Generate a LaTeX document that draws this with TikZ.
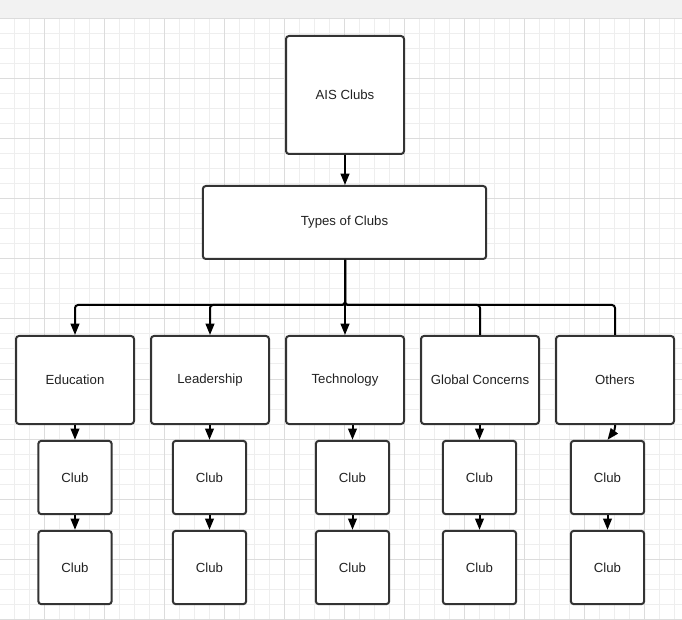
\documentclass[tikz,border=0pt]{standalone}
\usepackage{fontspec}
\setmainfont{Liberation Sans}
\usetikzlibrary{arrows.meta, positioning}
\definecolor{BarGray}{HTML}{F2F2F2}
\definecolor{GridMinor}{HTML}{EEEEEE}
\definecolor{GridMajor}{HTML}{DCDCDC}
\definecolor{EdgeGray}{HTML}{333333}
\definecolor{TextGray}{HTML}{222222}

\begin{document}
\begin{tikzpicture}[
		x=0.75pt, y=-0.75pt,
		BoxCfg/.style={
			draw=EdgeGray, line width=1.5pt, fill=white,
			rounded corners=2.25pt, inner sep=0pt,
			text=TextGray, font=\fontsize{9.9}{12}\selectfont
		},
		CatCfg/.style={BoxCfg, minimum width=88.5pt, minimum height=66pt},
		ClubCfg/.style={BoxCfg, minimum width=55pt, minimum height=55pt},
		LinkCfg/.style={line width=1.5pt, rounded corners=2.25pt},
		ArrowCfg/.style={LinkCfg, -{Triangle[length=8.5pt, width=6.5pt]}}
		]
		
		\useasboundingbox (0,0) rectangle (682,620);
		\fill[white] (0,19) rectangle (682,620);
		\fill[BarGray] (0,0) rectangle (682,19);
		\foreach \gx in {14,29,...,674} \draw[GridMinor, line width=0.75pt] (\gx,19) -- (\gx,620);
		\foreach \gy in {34,49,...,619} \draw[GridMinor, line width=0.75pt] (0,\gy) -- (682,\gy);
		\foreach \gx in {44,104,...,644} \draw[GridMajor, line width=0.75pt] (\gx,19) -- (\gx,620);
		\foreach \gy in {19,79,...,619} \draw[GridMajor, line width=0.75pt] (0,\gy) -- (682,\gy);
		
		\path
		(345,95) node [BoxCfg, minimum width=88.5pt, minimum height=88.5pt] (AIS) {AIS Clubs}
		++ (-0.5,127.5) node [BoxCfg, minimum width=212.5pt, minimum height=54.75pt] (TYPES) {Types of Clubs};
		
		\path
		(75,380) node [CatCfg] (EDU) {Education}
		++ (135,0) node [CatCfg] (LEAD) {Leadership}
		++ (135,0) node [CatCfg] (TECH) {Technology}
		++ (135,0) node [CatCfg] (GLOB) {Global Concerns}
		++ (135,0) node [CatCfg] (OTH) {Others};
		
		\path
		(75,477.5) node [ClubCfg] (EDUC1) {Club} ++ (0,90) node [ClubCfg] (EDUC2) {Club}
		(209.5,477.5) node [ClubCfg] (LEADC1) {Club} ++ (0,90) node [ClubCfg] (LEADC2) {Club}
		(352.5,477.5) node [ClubCfg] (TECHC1) {Club} ++ (0,90) node [ClubCfg] (TECHC2) {Club}
		(479.5,477.5) node [ClubCfg] (GLOBC1) {Club} ++ (0,90) node [ClubCfg] (GLOBC2) {Club}
		(607.5,477.5) node [ClubCfg] (OTHC1) {Club} ++ (0,90) node [ClubCfg] (OTHC2) {Club};
		
		\draw [ArrowCfg] (AIS.south) -- (AIS.south |- TYPES.north);
		\draw [ArrowCfg] (TYPES.south -| AIS.south) --++ (0,45) -| (EDU.north);
		\draw [ArrowCfg] (TYPES.south -| AIS.south) --++ (0,45) -| (LEAD.north);
		\draw [ArrowCfg] (TYPES.south -| AIS.south) -- (TECH.north);
		\draw [LinkCfg] (TYPES.south -| AIS.south) --++ (0,45) -| (GLOB.north);
		\draw [LinkCfg] (TYPES.south -| AIS.south) --++ (0,45) -| (OTH.north);
		
		\draw [ArrowCfg] (EDUC1.north |- EDU.south) -- (EDUC1.north);
		\draw [ArrowCfg] (LEADC1.north |- LEAD.south) -- (LEADC1.north);
		\draw [ArrowCfg] (TECHC1.north |- TECH.south) -- (TECHC1.north);
		\draw [ArrowCfg] (GLOBC1.north |- GLOB.south) -- (GLOBC1.north);
		\draw [ArrowCfg] (OTH.south) --++ (0,5) -- (OTHC1.north);
		
		\draw [ArrowCfg] (EDUC1) -- (EDUC2);
		\draw [ArrowCfg] (LEADC1) -- (LEADC2);
		\draw [ArrowCfg] (TECHC1) -- (TECHC2);
		\draw [ArrowCfg] (GLOBC1) -- (GLOBC2);
		\draw [ArrowCfg] (OTHC1) -- (OTHC2);
		\end{tikzpicture}
\end{document}
